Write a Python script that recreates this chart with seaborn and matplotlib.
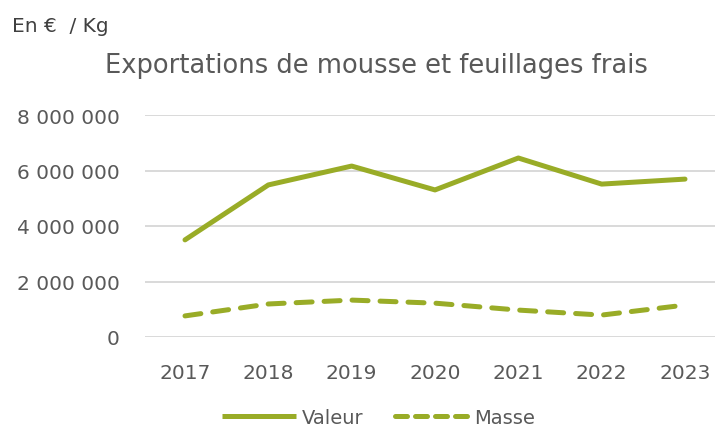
import matplotlib
matplotlib.use("Agg")
import matplotlib.pyplot as plt
import matplotlib.ticker as mticker
import pandas as pd
import seaborn as sns

# values
years = [2017, 2018, 2019, 2020, 2021, 2022, 2023]
valeur = [3500000, 5480000, 6160000, 5300000, 6450000, 5510000, 5690000]
masse = [760000, 1190000, 1330000, 1220000, 970000, 790000, 1150000]
series_names = ["Valeur", "Masse"]

green = "#99AC27"
grey_text = "#595959"

df = pd.DataFrame({"annee": years, "Valeur": valeur, "Masse": masse})
long_df = df.melt(id_vars="annee", var_name="serie", value_name="montant")

sns.set_theme(style="white")
plt.rcParams["font.family"] = ["DejaVu Sans"]

fig = plt.figure(figsize=(7.15, 4.31), dpi=100)
ax = fig.add_axes([145 / 715, (431 - 338) / 431, 570 / 715, 222 / 431])

sns.lineplot(data=long_df, x="annee", y="montant", hue="serie", style="serie",
             hue_order=series_names, style_order=series_names,
             palette=[green, green], dashes={"Valeur": "", "Masse": (3.2, 2.4)},
             linewidth=3.6, ax=ax, legend=False)
for line in ax.lines:
    line.set_solid_capstyle("round")
    line.set_dash_capstyle("round")
    line.set_solid_joinstyle("round")

ax.set_xlim(2016.52, 2023.36)
ax.set_ylim(0, 8000000)
ax.set_xticks(years)
ax.yaxis.set_major_locator(mticker.MultipleLocator(2000000))
ax.yaxis.set_major_formatter(
    mticker.FuncFormatter(lambda v, p: f"{int(v):,}".replace(",", " ")))
ax.grid(axis="y", color="#D9D9D9", linewidth=1.4)
ax.set_axisbelow(True)
for s in ax.spines.values():
    s.set_visible(False)
ax.tick_params(axis="both", length=0, labelsize=14.5, colors=grey_text)
ax.tick_params(axis="x", pad=19)
ax.tick_params(axis="y", pad=18)
ax.set_xlabel("")
ax.set_ylabel("")

fig.text(12 / 715, 1 - 27 / 431, "En €  / Kg", fontsize=14.5, color="#404040",
         ha="left", va="center")
fig.text(376 / 715, 1 - 66 / 431, "Exportations de mousse et feuillages frais",
         fontsize=18.5, color=grey_text, ha="center", va="center")

handles = [plt.Line2D([], [], color=green, linewidth=3.6, solid_capstyle="butt"),
           plt.Line2D([], [], color=green, linewidth=3.6, dashes=(2.4, 1.6),
                      dash_capstyle="round")]
fig.legend(handles, series_names, loc="center", bbox_to_anchor=(0.53, 0.03),
           ncol=2, frameon=False, fontsize=14, labelcolor=grey_text,
           handlelength=3.8, columnspacing=1.6, handletextpad=0.3)

fig.savefig("out.png", dpi=100)
